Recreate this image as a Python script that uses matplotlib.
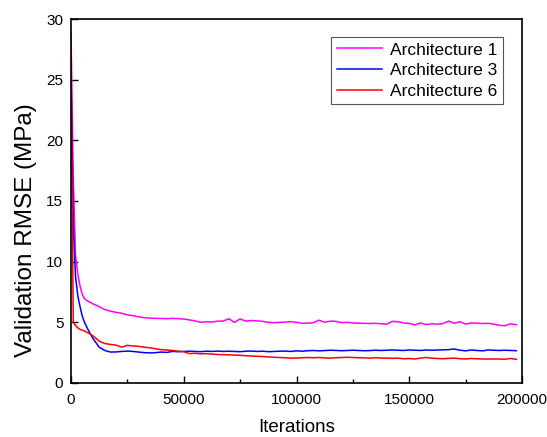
import matplotlib
matplotlib.use("Agg")
import matplotlib.pyplot as plt
from matplotlib.ticker import MultipleLocator

plt.rcParams['font.family'] = ['Liberation Sans', 'DejaVu Sans']

iterations = [0, 1000, 2000, 3000, 4000, 5000, 6000, 7000, 8000, 9000, 10000,
              12500, 15000, 17500, 20000, 22500, 25000, 27500, 30000, 32500, 35000,
              37500, 40000, 42500, 45000, 47500, 50000, 52500, 55000, 57500, 60000,
              62500, 65000, 67500, 70000, 72500, 75000, 77500, 80000, 82500, 85000,
              87500, 90000, 92500, 95000, 97500, 100000, 102500, 105000, 107500, 110000,
              112500, 115000, 117500, 120000, 122500, 125000, 127500, 130000, 132500, 135000,
              137500, 140000, 142500, 145000, 147500, 150000, 152500, 155000, 157500, 160000,
              162500, 165000, 167500, 170000, 172500, 175000, 177500, 180000, 182500, 185000,
              187500, 190000, 192500, 195000, 197500]

arch1 = [29.0, 17.0, 10.5, 9.0, 8.0, 7.3, 6.95, 6.8, 6.7, 6.6, 6.5,
         6.3, 6.05, 5.92, 5.82, 5.75, 5.62, 5.55, 5.45, 5.38, 5.35,
         5.33, 5.32, 5.3, 5.33, 5.3, 5.27, 5.2, 5.12, 5.0, 5.05,
         5.02, 5.1, 5.1, 5.3, 5.0, 5.28, 5.1, 5.15, 5.12, 5.08,
         5.0, 4.97, 5.0, 5.02, 5.05, 5.0, 4.92, 4.93, 4.97, 5.18,
         5.0, 5.1, 5.08, 4.98, 5.0, 4.95, 4.93, 4.92, 4.9, 4.92,
         4.88, 4.85, 5.08, 5.05, 4.95, 4.92, 4.78, 4.95, 4.82, 4.88,
         4.85, 4.9, 5.1, 4.92, 5.05, 4.85, 4.95, 4.93, 4.9, 4.92,
         4.85, 4.75, 4.72, 4.88, 4.8]

arch3 = [25.0, 13.0, 8.8, 7.2, 6.3, 5.5, 5.0, 4.6, 4.25, 3.9, 3.6,
         2.95, 2.68, 2.55, 2.56, 2.6, 2.63, 2.6, 2.55, 2.5, 2.48,
         2.5, 2.55, 2.52, 2.6, 2.58, 2.6, 2.62, 2.6, 2.58, 2.62,
         2.6, 2.63, 2.6, 2.62, 2.6, 2.58, 2.62, 2.63, 2.6, 2.62,
         2.58, 2.6, 2.62, 2.63, 2.6, 2.65, 2.62, 2.66, 2.68, 2.65,
         2.67, 2.7, 2.68, 2.66, 2.68, 2.7, 2.68, 2.66, 2.67, 2.7,
         2.68, 2.7, 2.72, 2.7, 2.68, 2.72, 2.7, 2.68, 2.72, 2.7,
         2.72, 2.73, 2.75, 2.8, 2.7, 2.65, 2.72, 2.68, 2.65, 2.72,
         2.7, 2.68, 2.7, 2.68, 2.66]

arch6 = [27.0, 5.0, 4.75, 4.55, 4.42, 4.35, 4.28, 4.18, 4.08, 3.98, 3.85,
         3.45, 3.25, 3.18, 3.12, 2.95, 3.1, 3.05, 3.02, 2.95, 2.9,
         2.82, 2.75, 2.72, 2.68, 2.62, 2.58, 2.42, 2.45, 2.4, 2.42,
         2.38, 2.35, 2.33, 2.32, 2.3, 2.28, 2.25, 2.22, 2.2, 2.18,
         2.15, 2.12, 2.1, 2.08, 2.05, 2.06, 2.08, 2.1, 2.08, 2.1,
         2.07, 2.05, 2.08, 2.1, 2.12, 2.1, 2.08, 2.07, 2.05, 2.08,
         2.06, 2.05, 2.03, 2.05, 2.0, 2.02, 1.98, 2.05, 2.1, 2.05,
         2.02, 2.0, 2.03, 2.05, 2.0, 1.98, 2.02, 2.0, 1.98, 1.97,
         1.98, 1.97, 1.96, 2.02, 1.95]

labels = ['Architecture 1', 'Architecture 3', 'Architecture 6']
colors = ['#ff00ff', '#0000ff', '#ff0000']

fig = plt.figure(figsize=(5.47, 4.37), dpi=100)
ax = fig.add_axes([0.1298, 0.1236, 0.8245, 0.8329])

for series, label, color in zip([arch1, arch3, arch6], labels, colors):
    ax.plot(iterations, series, color=color, lw=1.1, label=label)

ax.set_xlim(0, 200000)
ax.set_ylim(0, 30)
ax.xaxis.set_major_locator(MultipleLocator(50000))
ax.xaxis.set_minor_locator(MultipleLocator(25000))
ax.yaxis.set_major_locator(MultipleLocator(5))
ax.tick_params(which='major', direction='in', length=5, width=1, labelsize=11)
ax.tick_params(axis='x', which='major', pad=7)
ax.tick_params(axis='y', which='major', pad=5.5)
ax.tick_params(which='minor', direction='in', length=3, width=1)
ax.tick_params(axis='y', which='minor', length=0)
for s in ax.spines.values():
    s.set_linewidth(1.2)

ax.set_xlabel('Iterations', fontsize=13.5, labelpad=9)
ax.set_ylabel('Validation RMSE (MPa)', fontsize=17.5)
# the y label in the source sits a bit below the axes centre
ax.yaxis.set_label_coords(-0.075, 0.42)

leg = ax.legend(loc='upper right', bbox_to_anchor=(0.958, 0.95), fontsize=12.5,
                fancybox=False, edgecolor='#555555', framealpha=1,
                handlelength=2.6, borderpad=0.3, labelspacing=0.32,
                handletextpad=0.5, borderaxespad=0)
leg.get_frame().set_linewidth(0.8)

fig.savefig('out.png', dpi=100)
